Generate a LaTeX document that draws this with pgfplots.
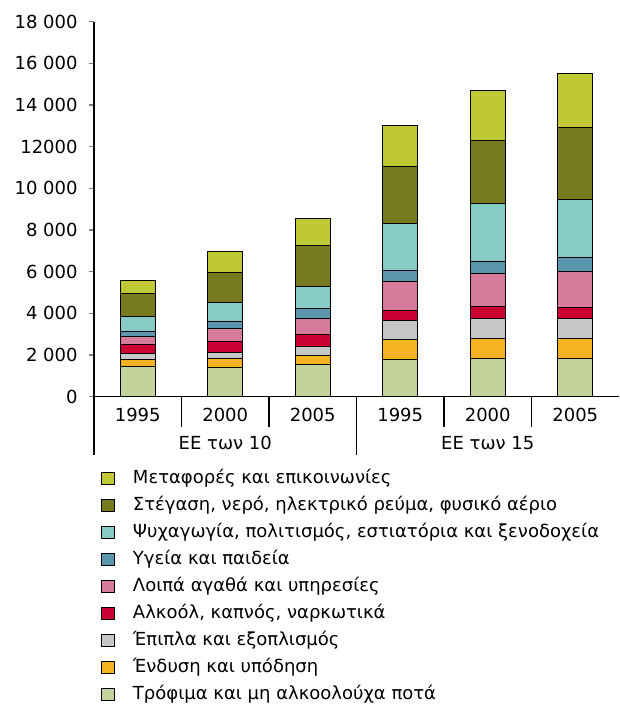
\documentclass[border=0pt]{standalone}
\usepackage{fontspec}
\setmainfont{DejaVu Sans}
\usepackage{pgfplots}
\usepackage{pgfplotstable}
\pgfplotsset{compat=1.18}

\definecolor{ctrans}{HTML}{C0C933}
\definecolor{chous}{HTML}{787A1F}
\definecolor{crecr}{HTML}{86CBC6}
\definecolor{cheal}{HTML}{5A97AE}
\definecolor{cother}{HTML}{D77B9A}
\definecolor{calc}{HTML}{CC0033}
\definecolor{cfurn}{HTML}{C6C7C9}
\definecolor{ccloth}{HTML}{F5B324}
\definecolor{cfood}{HTML}{C3D39B}

\pgfplotsset{sq/.style={fill=#1, draw=black, line width=0.5pt,
    legend image code/.code={\draw[##1] (0pt,-3.2pt) rectangle (6.4pt,3.2pt);}}}

% dati (valori per categoria, non cumulati)
\pgfplotstableread{
x food cloth furn alc other health recr hous trans
0 1440 350 290 440 360 240 720 1110 640
1 1410 400 320 520 630 320 930 1440 990
2 1550 400 450 560 800 450 1070 1960 1320
3 1790 930 910 480 1410 520 2280 2720 1960
4 1850 930 990 550 1570 620 2740 3030 2440
5 1840 930 990 530 1710 670 2800 3440 2580
}\data

\begin{document}
\begin{tikzpicture}
\begin{axis}[
    scale only axis, width=262.5pt, height=187.45pt,
    xmin=-0.5, xmax=5.5, ymin=0, ymax=18000,
    ybar stacked, bar width=17.5pt,
    axis lines*=left, axis line style={line width=0.6pt},
    clip=false, scaled y ticks=false,
    font=\fontsize{9pt}{10.5pt}\selectfont,
    ytick={0,2000,...,18000},
    yticklabels={0,2 000,4 000,6 000,8 000,10 000,12000,14 000,16 000,18 000},
    tick align=outside, major tick length=2.5pt,
    ytick style={line width=0.6pt},
    yticklabel style={anchor=east, inner sep=0pt, xshift=-5.5pt},
    xtick={0,...,5},
    xticklabels={1995,2000,2005,1995,2000,2005},
    xtick style={draw=none},
    xticklabel style={anchor=base, inner sep=0pt, yshift=-10pt},
    reverse legend,
    legend cell align=left,
    legend style={draw=none, fill=none, inner sep=0pt,
        at={(axis description cs:0,0)}, anchor=north west,
        xshift=3.2pt, yshift=-36.5pt,
        font=\fontsize{9pt}{10.5pt}\selectfont,
        nodes={inner sep=0pt, text height=6.5pt, text depth=2pt},
        row sep=5pt, column sep=9.2pt},
]
\addplot[sq=cfood] table[x=x, y=food] {\data};
\addlegendentry{Τρόφιμα και μη αλκοολούχα ποτά}
\addplot[sq=ccloth] table[x=x, y=cloth] {\data};
\addlegendentry{Ένδυση και υπόδηση}
\addplot[sq=cfurn] table[x=x, y=furn] {\data};
\addlegendentry{Έπιπλα και εξοπλισμός}
\addplot[sq=calc] table[x=x, y=alc] {\data};
\addlegendentry{Αλκοόλ, καπνός, ναρκωτικά}
\addplot[sq=cother] table[x=x, y=other] {\data};
\addlegendentry{Λοιπά αγαθά και υπηρεσίες}
\addplot[sq=cheal] table[x=x, y=health] {\data};
\addlegendentry{Υγεία και παιδεία}
\addplot[sq=crecr] table[x=x, y=recr] {\data};
\addlegendentry{Ψυχαγωγία, πολιτισμός, εστιατόρια και ξενοδοχεία}
\addplot[sq=chous] table[x=x, y=hous] {\data};
\addlegendentry{Στέγαση, νερό, ηλεκτρικό ρεύμα, φυσικό αέριο}
\addplot[sq=ctrans] table[x=x, y=trans] {\data};
\addlegendentry{Μεταφορές και επικοινωνίες}

% separatori delle categorie
\draw[line width=0.6pt] (axis cs:0.5,0) -- ++(0pt,-15pt);
\draw[line width=0.6pt] (axis cs:1.5,0) -- ++(0pt,-15pt);
\draw[line width=0.6pt] (axis cs:3.5,0) -- ++(0pt,-15pt);
\draw[line width=0.6pt] (axis cs:4.5,0) -- ++(0pt,-15pt);
\draw[line width=0.6pt] (axis cs:-0.5,0) -- ++(0pt,-29pt);
\draw[line width=0.6pt] (axis cs:2.5,0) -- ++(0pt,-29pt);
\node[anchor=base, inner sep=0pt] at (axis cs:1,0) [yshift=-26.6pt] {ΕΕ των 10};
\node[anchor=base, inner sep=0pt] at (axis cs:4,0) [yshift=-26.6pt] {ΕΕ των 15};
% riquadro della figura
\path (rel axis cs:0,0) ++(-47pt,-157.2pt) rectangle ++(309.5pt,355.5pt);
\end{axis}
\end{tikzpicture}
\end{document}
